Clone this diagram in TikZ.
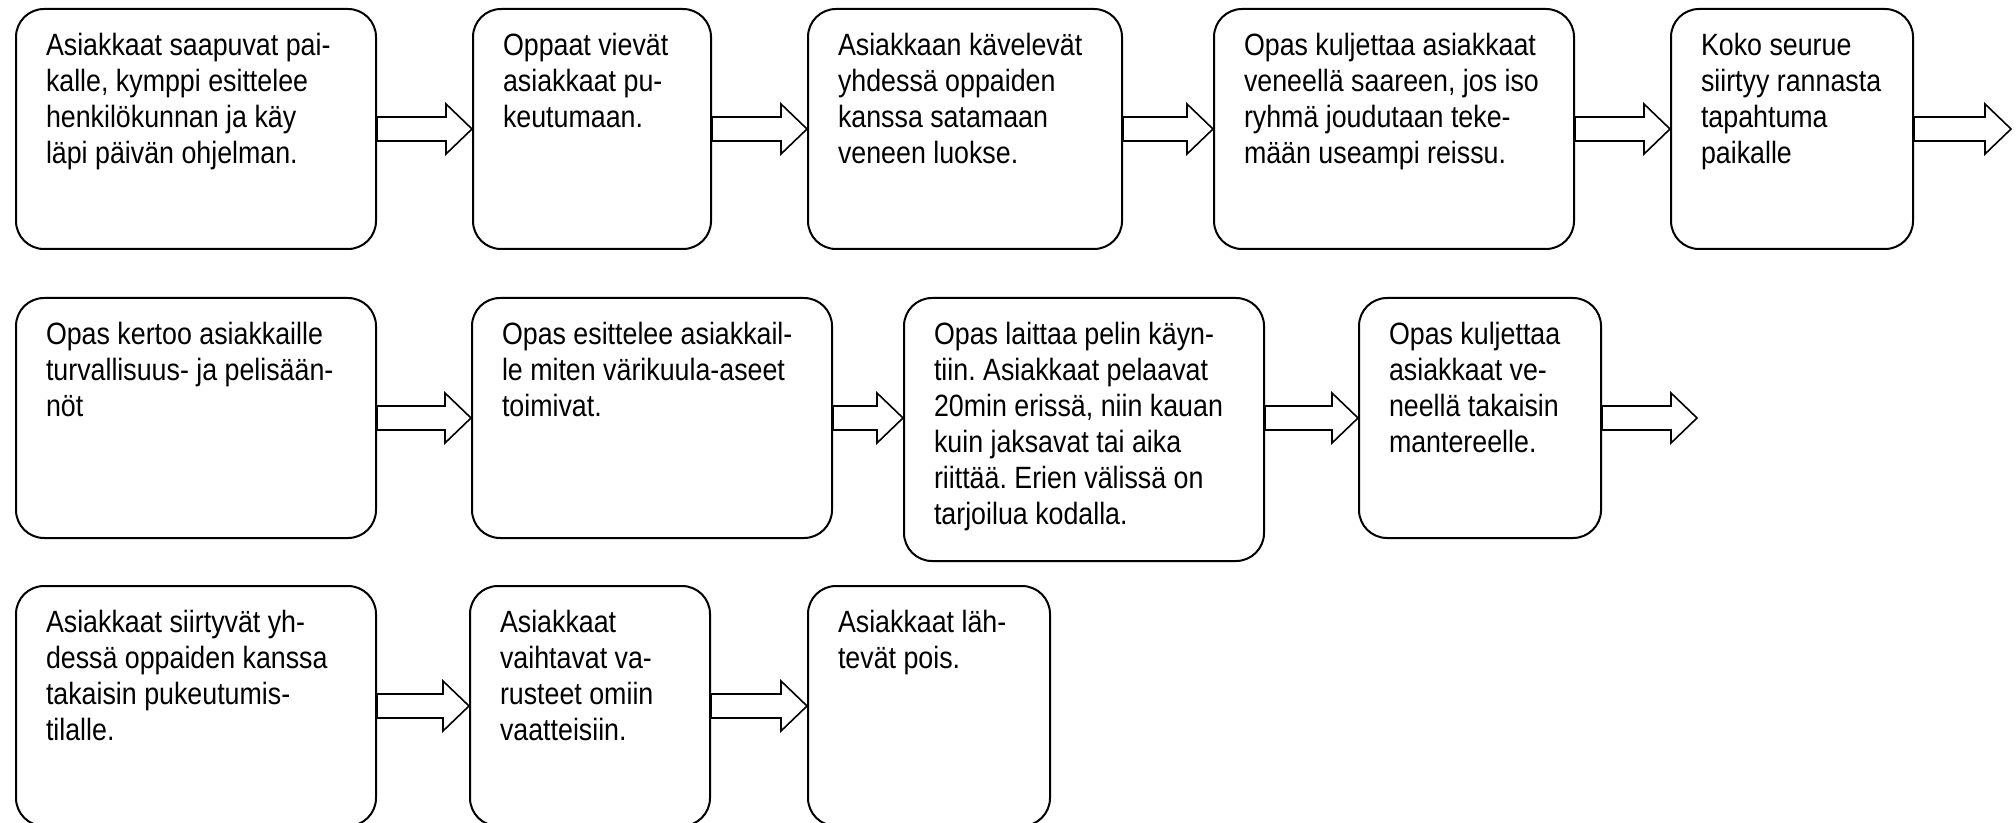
\documentclass[tikz,border=0pt]{standalone}
\usepackage{fontspec}
\setmainfont{Liberation Sans}[FakeStretch=0.87]
\usetikzlibrary{calc}

% text of a step, set at the top left of its box
\newcommand{\boxtext}[3]{\parbox[t][#2][t]{#1}{\frenchspacing\raggedright\rightskip=-20pt plus 1fil #3}}

\tikzset{
  stepbox/.style={draw, line width=1pt, rounded corners=14pt, anchor=north west,
    inner xsep=15pt, inner ysep=12pt, font=\fontsize{15.4pt}{18pt}\selectfont},
  blockarrow/.style={draw, line width=0.8pt, to path={
    ($(\tikztostart)+(0,-12)$) -- ($(\tikztotarget)+(-26,-12)$) -- ($(\tikztotarget)+(-26,-25)$)
    -- (\tikztotarget) -- ($(\tikztotarget)+(-26,25)$) -- ($(\tikztotarget)+(-26,12)$)
    -- ($(\tikztostart)+(0,12)$) -- cycle}}
}

\begin{document}
\begin{tikzpicture}[x=0.5pt, y=-0.5pt]

    \fill[white] (0,0) rectangle (2016,823);
    \path[use as bounding box, clip] (0,0) rectangle (2016,823);

    % first row
    \node[stepbox] (b11) at (15,8) {\boxtext{150pt}{96pt}{Asiakkaat saapuvat pai-\\kalle, kymppi esittelee\\henkilökunnan ja käy\\läpi päivän ohjelman.}};
    \node[stepbox] (b12) at (472,8) {\boxtext{89pt}{96pt}{Oppaat vievät\\asiakkaat pu-\\keutumaan.}};
    \node[stepbox] (b13) at (807,8) {\boxtext{127pt}{96pt}{Asiakkaan kävelevät\\yhdessä oppaiden\\kanssa satamaan\\veneen luokse.}};
    \node[stepbox] (b14) at (1213,8) {\boxtext{150pt}{96pt}{Opas kuljettaa asiakkaat\\veneellä saareen, jos iso\\ryhmä joudutaan teke-\\mään useampi reissu.}};
    \node[stepbox] (b15) at (1670,8) {\boxtext{91pt}{96pt}{Koko seurue\\siirtyy rannasta\\tapahtuma\\paikalle}};
    \path (b15.east) ++(97,0) coordinate (end1);

    % second row
    \node[stepbox] (b21) at (15,297) {\boxtext{150pt}{96pt}{Opas kertoo asiakkaille\\turvallisuus- ja pelisään-\\nöt}};
    \node[stepbox] (b22) at (471,297) {\boxtext{150pt}{96pt}{Opas esittelee asiakkail-\\le miten värikuula-aseet\\toimivat.}};
    \node[stepbox] (b23) at (903,297) {\boxtext{150pt}{107.5pt}{Opas laittaa pelin käyn-\\tiin. Asiakkaat pelaavat\\20min erissä, niin kauan\\kuin jaksavat tai aika\\riittää. Erien välissä on\\tarjoilua kodalla.}};
    \node[stepbox] (b24) at (1358,297) {\boxtext{91pt}{96pt}{Opas kuljettaa\\asiakkaat ve-\\neellä takaisin\\mantereelle.}};
    \coordinate (t23) at (b23.west |- b22.east);
    \coordinate (s23) at (b23.east |- b24.west);
    \path (b24.east) ++(95,0) coordinate (end2);

    % third row
    \node[stepbox] (b31) at (15,585) {\boxtext{150pt}{96pt}{Asiakkaat siirtyvät yh-\\dessä oppaiden kanssa\\takaisin pukeutumis-\\tilalle.}};
    \node[stepbox] (b32) at (469,585) {\boxtext{90pt}{96pt}{Asiakkaat\\vaihtavat va-\\rusteet omiin\\vaatteisiin.}};
    \node[stepbox] (b33) at (807,585) {\boxtext{91pt}{96pt}{Asiakkaat läh-\\tevät pois.}};

    \foreach \a/\b in {b11.east/b12.west, b12.east/b13.west, b13.east/b14.west, b14.east/b15.west, b15.east/end1,
                       b21.east/b22.west, b22.east/t23, s23/b24.west, b24.east/end2,
                       b31.east/b32.west, b32.east/b33.west}
      \draw[blockarrow] (\a) to (\b);
\end{tikzpicture}
\end{document}
